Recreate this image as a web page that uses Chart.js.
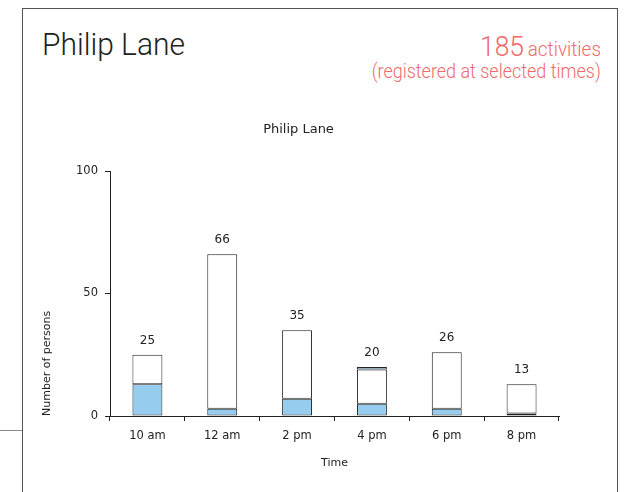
<!DOCTYPE html>
<html>
<head>
<meta charset="utf-8">
<script src="https://cdn.jsdelivr.net/npm/chart.js@4.4.7/dist/chart.umd.min.js"></script>
<style>
    body { margin: 0; background: #fff; width: 627px; height: 492px; overflow: hidden; position: relative; }
    #frame { position: absolute; left: 22px; top: 8px; width: 596px; height: 500px;
             border: 1px solid #555; border-bottom: none; box-sizing: border-box; }
    #stub { position: absolute; left: 0; top: 430px; width: 22px; height: 0; border-top: 1px solid #888; }
    .fit { position: absolute; white-space: nowrap; font-family: Roboto, "Liberation Sans", sans-serif; font-weight: 300; }
    #heading { left: 42px; top: 25px; font-size: 32px; color: #222; transform-origin: left top; }
    #count1, #count2 { right: 26px; color: #f06a6a; transform-origin: right top; }
    #count1 { top: 30px; }
    #count2 { top: 59px; font-size: 20px; }
    .big { font-size: 28px; }
    .small { font-size: 20px; }
    canvas { position: absolute; left: 0; top: 0; }
</style>
</head>
<body>
<div id="frame"></div>
<div id="stub"></div>
<div id="heading" class="fit">Philip Lane</div>
<div id="count1" class="fit"><span class="big">185</span> <span class="small">activities</span></div>
<div id="count2" class="fit">(registered at selected times)</div>
<canvas id="bar_chart" width="627" height="492"></canvas>

<script>
// Chart data
const timeLabels  = ['10 am', '12 am', '2 pm', '4 pm', '6 pm', '8 pm'];
const blueLower   = [13, 3, 7, 5, 3, 1];
const whiteMiddle = [12, 63, 28, 14, 23, 12];
const blueUpper   = [null, null, null, 1, null, null];
const yTicks      = [0, 50, 100];

const blue = '#96cdef';
const edge = '#222';

// Squeeze the header texts to the widths of the original (condensed font).
function fitWidth(id, target) {
    var el = document.getElementById(id);
    var w = el.getBoundingClientRect().width;
    el.style.transform = 'scaleX(' + (target / w) + ')';
}
fitWidth('heading', 143);
fitWidth('count1', 121);
fitWidth('count2', 229);

// Draw the total above each bar.
const totalsPlugin = {
    id: 'totals',
    afterDatasetsDraw(chart) {
        const ctx = chart.ctx;
        const x = chart.scales.x;
        const y = chart.scales.y;
        ctx.save();
        ctx.font = '12px "DejaVu Sans"';
        ctx.fillStyle = '#222';
        ctx.textAlign = 'center';
        ctx.textBaseline = 'middle';
        timeLabels.forEach((label, i) => {
            let total = 0;
            chart.data.datasets.forEach(ds => { total += ds.data[i] || 0; });
            ctx.fillText(total, x.getPixelForValue(i), y.getPixelForValue(total) - 14);
        });
        ctx.restore();
    }
};

function segment(data, fill) {
    return {
        data: data,
        backgroundColor: fill,
        borderColor: edge,
        borderWidth: 1,
        borderSkipped: false,
        barPercentage: 0.4,
        categoryPercentage: 1
    };
}

const ctx = document.getElementById('bar_chart');

var data = {
    labels: timeLabels,
    datasets: [
        segment(blueLower, blue),
        segment(whiteMiddle, '#fff'),
        segment(blueUpper, blue)
    ]
};

var options = {
    responsive: false,
    animation: false,
    layout: {
        padding: { left: 38, right: 68, top: 122, bottom: 16 }
    },
    scales: {
        x: {
            stacked: true,
            border: { display: true, color: edge, width: 1 },
            grid: { drawOnChartArea: false, drawTicks: true, tickLength: 5, color: edge, offset: true },
            ticks: { color: '#222', padding: 8, font: { size: 11.5, family: 'DejaVu Sans' } },
            title: { display: true, text: 'Time', color: '#222', padding: { top: 0, bottom: 6 },
                     font: { size: 11, family: 'DejaVu Sans' } },
            afterFit: function(scale) { scale.height = 60; }
        },
        y: {
            stacked: true,
            min: 0,
            max: 100,
            border: { display: true, color: edge, width: 1 },
            grid: { drawOnChartArea: false, drawTicks: true, tickLength: 5, color: edge },
            ticks: { color: '#222', padding: 7, font: { size: 11.5, family: 'DejaVu Sans' } },
            afterBuildTicks: function(scale) {
                scale.ticks = yTicks.map(v => ({ value: v }));
            },
            title: { display: true, text: 'Number of persons', align: 'start', color: '#222',
                     padding: { top: 3, bottom: 0 }, font: { size: 11, family: 'DejaVu Sans' } },
            afterFit: function(scale) { scale.width = 72; }
        }
    },
    plugins: {
        legend: { display: false },
        tooltip: { enabled: false },
        title: {
            display: true,
            text: 'Philip Lane',
            color: '#222',
            font: { size: 13, family: 'DejaVu Sans', weight: 'normal' },
            padding: { top: 0, bottom: 33.4 }
        }
    }
};

var bar = new Chart(ctx, { type: 'bar', data, options, plugins: [totalsPlugin] });
</script>
</body>
</html>
